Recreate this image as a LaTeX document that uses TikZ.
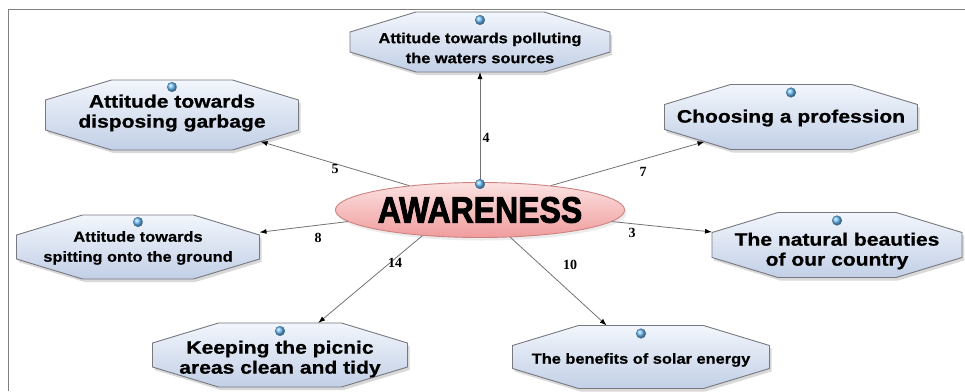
\documentclass[tikz,border=0pt]{standalone}
\usepackage{fontspec}
\setmainfont{Liberation Sans}
\newfontfamily\heavy[BoldFeatures={FakeBold=2.5}]{Liberation Sans}
\newfontfamily\widebig[FakeStretch=1.17, BoldFeatures={FakeBold=0.8}]{Liberation Sans}
\newfontfamily\widesmall[FakeStretch=1.13, BoldFeatures={FakeBold=0.6}]{Liberation Sans}
\newfontfamily\lblfont{Liberation Serif}
\usetikzlibrary{shapes.geometric,arrows.meta,shadows}
\pgfdeclarelayer{bg}
\pgfsetlayers{bg,main}
\definecolor{frameg}{RGB}{128,128,128}
\definecolor{octtop}{RGB}{242,246,252}
\definecolor{octbot}{RGB}{194,207,230}
\definecolor{octline}{RGB}{120,120,128}
\definecolor{pinktop}{RGB}{252,226,226}
\definecolor{pinkbot}{RGB}{240,156,156}
\definecolor{pinkline}{RGB}{205,130,130}
\definecolor{connline}{RGB}{115,115,115}
\definecolor{ballblue}{RGB}{110,190,250}
\newcommand\blueball[2]{\shade[ball color=ballblue] ([yshift=#2]#1.north) circle[radius=4.8pt];
  \draw[ballblue!60!black, line width=0.4pt] ([yshift=#2]#1.north) circle[radius=4.8pt];}
% octagon outline around a named rectangle node: #1 name, #2 horizontal cut, #3 vertical cut
\newcommand\octa[3]{%
  \begin{pgfonlayer}{bg}
  \fill[black, opacity=0.15] ([shift={(2pt+#2,-3pt)}]#1.north west) -- ([shift={(2pt-#2,-3pt)}]#1.north east)
     -- ([shift={(2pt,-3pt-#3)}]#1.north east) -- ([shift={(2pt,-3pt+#3)}]#1.south east)
     -- ([shift={(2pt-#2,-3pt)}]#1.south east) -- ([shift={(2pt+#2,-3pt)}]#1.south west)
     -- ([shift={(2pt,-3pt+#3)}]#1.south west) -- ([shift={(2pt,-3pt-#3)}]#1.north west) -- cycle;
  \path[octshape] ([xshift=#2]#1.north west) -- ([xshift=-#2]#1.north east)
     -- ([yshift=-#3]#1.north east) -- ([yshift=#3]#1.south east)
     -- ([xshift=-#2]#1.south east) -- ([xshift=#2]#1.south west)
     -- ([yshift=#3]#1.south west) -- ([yshift=-#3]#1.north west) -- cycle;
  \end{pgfonlayer}}
\tikzset{
  box/.style 2 args={rectangle, minimum width=#1, minimum height=#2,
    inner sep=0pt, outer sep=0pt},
  bigt/.style={align=center, inner sep=0pt, font=\widebig\fontsize{18}{20}\selectfont\bfseries},
  smallt/.style={align=center, inner sep=0pt, font=\widesmall\fontsize{14.5}{20}\selectfont\bfseries},
  octshape/.style={draw=octline, line width=0.9pt, top color=octtop, bottom color=octbot},
  conn/.style={draw=connline, line width=0.8pt,
    -{Latex[length=7pt, width=5pt, color=black]}},
  lbl/.style={font=\lblfont\bfseries\fontsize{14}{14}\selectfont, inner sep=1pt},
}
\begin{document}
\begin{tikzpicture}[x=1pt, y=-1pt]
\useasboundingbox (0,0) rectangle (965,391);
\begin{pgfonlayer}{bg}
\fill[white] (0,0) rectangle (965,391);
\draw[frameg, line width=1.5pt] (8.5,391) -- (8.5,9.5) -- (965,9.5);
\end{pgfonlayer}

% nodes (frame box, text as centred label)
\node[box={260pt}{60pt}, label={[smallt, yshift=-6pt]center:Attitude towards polluting\\the waters sources}] (n4) at (480,42) {};
\node[box={253pt}{70pt}, label={[bigt, yshift=2pt]center:Attitude towards\\disposing garbage}] (n5) at (172,115) {};
\node[box={243pt}{64pt}, label={[smallt, yshift=-1pt]center:Attitude towards\\spitting onto the ground}] (n8) at (138,247) {};
\node[box={255pt}{64pt}, label={[bigt, yshift=-4pt]center:Keeping the picnic\\areas clean and tidy}] (n14) at (280,355) {};
\node[box={257pt}{63pt}, label={[smallt, yshift=-3pt]center:The benefits of solar energy}] (n10) at (641,357) {};
\node[box={250pt}{65pt}, label={[bigt, yshift=-6pt]center:The natural beauties\\of our country}] (n3) at (837,245) {};
\node[box={253pt}{65pt}, label={[bigt, yshift=-1pt]center:Choosing a profession}] (n7) at (791,117) {};
\octa{n4}{66pt}{20pt}
\octa{n5}{66pt}{20pt}
\octa{n8}{66pt}{20pt}
\octa{n14}{66pt}{20pt}
\octa{n10}{66pt}{20pt}
\octa{n3}{66pt}{20pt}
\octa{n7}{66pt}{20pt}

\node[ellipse, minimum width=255pt, minimum height=55pt, inner sep=0pt,
  draw=pinkline, line width=0.9pt, top color=pinktop, bottom color=pinkbot,
  drop shadow={shadow xshift=2pt, shadow yshift=-3pt, opacity=0.15}] (aw) at (480,210)
  {\scalebox{1}[1.15]{\fontsize{32}{32}\selectfont\heavy\bfseries AWARENESS}};

% connector ends on the slanted sides
\coordinate (e5) at ([xshift=-38pt, yshift=8.5pt]n5.south east);
\coordinate (e7) at ([xshift=40pt, yshift=7.8pt]n7.south west);

% connectors
\draw[conn] (aw.90) -- (n4);
\draw[conn] (aw.161) -- (e5);
\draw[conn] (aw.19) -- (e7);
\draw[conn] (aw.185) -- (n8);
\draw[conn] (aw.355) -- (n3);
\draw[conn] (aw.204) -- (n14);
\draw[conn] (aw.318) -- (n10);

% labels
\node[lbl] (l4) at (486,138) {4};
\node[lbl] (l5) at (335,169) {5};
\node[lbl] (l7) at (643,172) {7};
\node[lbl] (l8) at (318,238) {8};
\node[lbl] (l3) at (632,233) {3};
\node[lbl] (l14) at (395,263) {14};
\node[lbl] (l10) at (570,265) {10};

% balls
\blueball{n4}{-8pt}
\blueball{n5}{-7pt}
\blueball{n8}{-7pt}
\blueball{n14}{-8pt}
\blueball{n10}{-8pt}
\blueball{n3}{-8pt}
\blueball{n7}{-8pt}
\blueball{aw}{-2pt}
\end{tikzpicture}
\end{document}
